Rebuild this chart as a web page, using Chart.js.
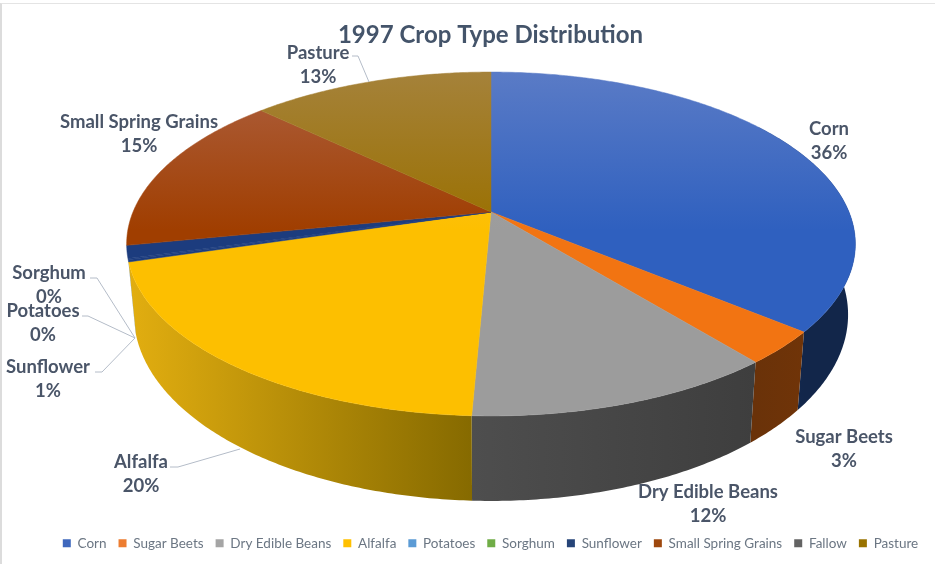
<!DOCTYPE html>
<html>
<head>
<meta charset="utf-8">
<title>1997 Crop Type Distribution</title>
<script src="https://cdn.jsdelivr.net/npm/chart.js@4"></script>
<style>
    html, body { margin: 0; padding: 0; background: #fff; overflow: hidden; }
    #wrap { position: relative; width: 935px; height: 564px; }
    #frame { position: absolute; left: 0; top: 3px; right: 0; bottom: 0; border-left: 2px solid #dcdcdc; border-top: 1px solid #e4e4e4; }
    canvas { position: absolute; left: 0; top: 0; filter: blur(0.5px); }
</style>
</head>
<body>
<div id="wrap">
    <canvas id="cropChart" width="935" height="564"></canvas>
    <div id="frame"></div>
</div>
<script>
var categories = ['Corn', 'Sugar Beets', 'Dry Edible Beans', 'Alfalfa', 'Potatoes', 'Sorghum', 'Sunflower', 'Small Spring Grains', 'Fallow', 'Pasture'];
var shares = [36, 3.1, 11.6, 19.7, 0.2, 0.1, 1.2, 15.2, 0, 12.9];
var legendColors = ['#3f68bd', '#ed7d31', '#a5a5a5', '#ffc000', '#5b9bd5', '#70ad47', '#264478', '#9e480e', '#636363', '#997300'];

// top face shading: [upper, lower] and wall shading: [left, right]
var faceShades = [
    ['#5a7bc6', '#2f60bf'], ['#ed7d31', '#f27412'], ['#a8a8a8', '#9c9c9c'], ['#fbc840', '#fdbf00'],
    ['#24478c', '#1c3c7e'], ['#24478c', '#1c3c7e'], ['#24478c', '#1c3c7e'], ['#ad6040', '#a03e00'],
    ['#636363', '#636363'], ['#a5823a', '#9a7000']
];
var wallShades = [
    ['#142f5e', '#12264a'], ['#6a3209', '#703408'], ['#4e4e4e', '#3e3e3e'], ['#e2ae10', '#866a00'],
    ['#3a6a94', '#3a6a94'], ['#4c7830', '#4c7830'], ['#162c54', '#162c54'], ['#6b3009', '#6b3009'],
    ['#444444', '#444444'], ['#6a5000', '#6a5000']
];

// where each data label sits, by category
var labelSpots = {
    'Corn': [829, 129], 'Sugar Beets': [844, 437], 'Dry Edible Beans': [708, 492], 'Alfalfa': [141, 462],
    'Potatoes': [43, 311], 'Sorghum': [49, 273], 'Sunflower': [48, 367], 'Small Spring Grains': [139, 122], 'Pasture': [318, 53]
};
var leaderLines = {
    'Sorghum': [[90, 278], [97, 278], [135, 338]],
    'Potatoes': [[82, 316], [88, 316], [135, 338]],
    'Sunflower': [[95, 372], [102, 372], [135, 338]],
    'Alfalfa': [[170, 467], [178, 467], [240, 449]],
    'Pasture': [[352, 56], [358, 56], [369, 82]]
};

// perspective of the disc
var disc = { cx: 491, cy: 212, a: 358, b: 166, k: -0.186 };
var wallLimits = [-0.6, 2.862];

function topPoint(t) {
    var u = Math.cos(t), v = Math.sin(t);
    var w = 1 + disc.k * v;
    return { x: disc.cx + disc.a * u / w, y: disc.cy + disc.b * v / w };
}

function bottomPoint(t) {
    var p = topPoint(t);
    return { x: disc.cx + (p.x - disc.cx) * 0.98, y: p.y + 78 + (p.y - 332) * 0.0833 };
}

var piePlugin = {
    id: 'tiltedPie',
    beforeDatasetDraw: function(chart) {
        var ctx = chart.ctx;
        var arcs = chart.getDatasetMeta(0).data;
        var i, j, steps, t, p;

        ctx.save();
        // walls first, the top face covers whatever is behind it
        arcs.forEach(function(arc, idx) {
            var from = Math.max(arc.startAngle, wallLimits[0]);
            var to = Math.min(arc.endAngle, wallLimits[1]);
            if (to <= from) return;
            steps = Math.ceil((to - from) / 0.01);
            var left = Math.min(topPoint(from).x, topPoint(to).x);
            var right = Math.max(topPoint(from).x, topPoint(to).x);
            var grad = ctx.createLinearGradient(left, 0, right, 0);
            grad.addColorStop(0, wallShades[idx][0]);
            grad.addColorStop(1, wallShades[idx][1]);
            ctx.beginPath();
            for (j = 0; j <= steps; j++) {
                t = from + (to - from) * j / steps;
                p = topPoint(t);
                if (j === 0) ctx.moveTo(p.x, p.y); else ctx.lineTo(p.x, p.y);
            }
            for (j = steps; j >= 0; j--) {
                t = from + (to - from) * j / steps;
                p = bottomPoint(t);
                ctx.lineTo(p.x, p.y);
            }
            ctx.closePath();
            ctx.fillStyle = grad;
            ctx.fill();
        });

        arcs.forEach(function(arc, idx) {
            if (arc.endAngle - arc.startAngle <= 0) return;
            steps = Math.ceil((arc.endAngle - arc.startAngle) / 0.01);
            var grad = ctx.createLinearGradient(0, 72, 0, 230);
            grad.addColorStop(0, faceShades[idx][0]);
            grad.addColorStop(1, faceShades[idx][1]);
            ctx.beginPath();
            ctx.moveTo(disc.cx, disc.cy);
            for (i = 0; i <= steps; i++) {
                t = arc.startAngle + (arc.endAngle - arc.startAngle) * i / steps;
                p = topPoint(t);
                ctx.lineTo(p.x, p.y);
            }
            ctx.closePath();
            ctx.fillStyle = grad;
            ctx.fill();
            // same colour hairline so the seams do not show white
            ctx.strokeStyle = grad;
            ctx.lineWidth = 0.5;
            ctx.stroke();
        });
        ctx.restore();
        return false;
    },
    afterDatasetsDraw: function(chart) {
        var ctx = chart.ctx;
        var total = shares.reduce(function(a, b) { return a + b; }, 0);
        ctx.save();

        ctx.strokeStyle = '#b4bcc8';
        ctx.lineWidth = 1;
        Object.keys(leaderLines).forEach(function(name) {
            var pts = leaderLines[name];
            ctx.beginPath();
            ctx.moveTo(pts[0][0], pts[0][1]);
            for (var i = 1; i < pts.length; i++) ctx.lineTo(pts[i][0], pts[i][1]);
            ctx.stroke();
        });

        ctx.font = 'bold 18.5px Lato';
        ctx.fillStyle = '#4a5568';
        ctx.textAlign = 'center';
        ctx.textBaseline = 'middle';
        categories.forEach(function(name, idx) {
            var spot = labelSpots[name];
            if (!spot) return;
            ctx.fillText(name, spot[0], spot[1]);
            ctx.fillText(Math.round(shares[idx] / total * 100) + '%', spot[0], spot[1] + 24);
        });
        ctx.restore();
    }
};

new Chart(document.getElementById('cropChart'), {
    type: 'pie',
    data: {
        labels: categories,
        datasets: [{
            data: shares,
            backgroundColor: legendColors,
            borderWidth: 0
        }]
    },
    options: {
        responsive: false,
        animation: false,
        layout: { padding: { left: 46, right: 0, top: 0, bottom: 4 } },
        plugins: {
            title: {
                display: true,
                text: '1997 Crop Type Distribution',
                color: '#44546a',
                font: { family: 'Lato', size: 24, weight: 'bold' },
                padding: { top: 21, bottom: 10 }
            },
            legend: {
                position: 'bottom',
                labels: {
                    boxWidth: 8,
                    boxHeight: 8,
                    padding: 12,
                    color: '#6b7683',
                    font: { family: 'Lato', size: 13.5 }
                }
            },
            tooltip: { enabled: false }
        }
    },
    plugins: [piePlugin]
});
</script>
</body>
</html>
